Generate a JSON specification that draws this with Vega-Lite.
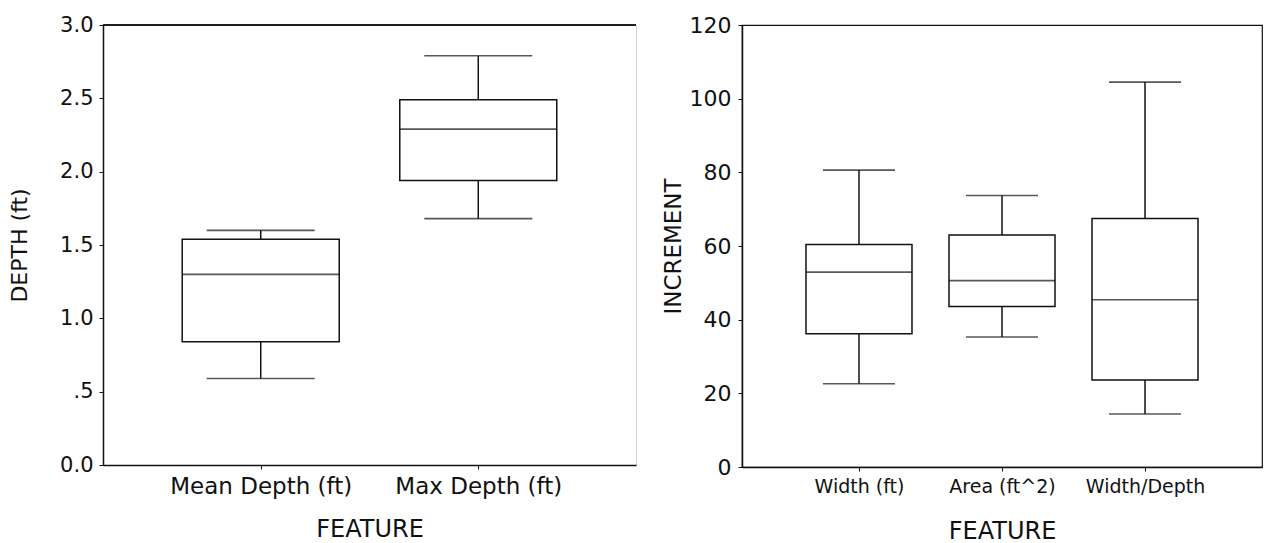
{
  "$schema": "https://vega.github.io/schema/vega-lite/v6.json",
  "background": "white",
  "padding": {"left": 8, "top": 13, "right": 0, "bottom": 0},
  "autosize": {"type": "pad"},
  "spacing": 23,
  "config": {
    "view": {"stroke": null},
    "axis": {
      "labelFont": "DejaVu Sans",
      "titleFont": "DejaVu Sans",
      "titleFontWeight": "normal",
      "labelColor": "#111",
      "titleColor": "#111",
      "domainColor": "#111",
      "tickColor": "#111",
      "domainWidth": 1.5,
      "tickWidth": 1,
      "tickSize": 4,
      "labelPadding": 6,
      "grid": false,
      "labelLimit": 400
    }
  },
  "hconcat": [
    {
      "width": 533,
      "height": 440,
      "view": {"stroke": "#d0d0d0"},
      "data": {
        "values": [
          {"feature": "Mean Depth (ft)", "min": 0.59, "q1": 0.84, "median": 1.30, "q3": 1.54, "max": 1.60},
          {"feature": "Max Depth (ft)", "min": 1.68, "q1": 1.94, "median": 2.29, "q3": 2.49, "max": 2.79}
        ]
      },
      "layer": [
        {
          "mark": {"type": "rule", "color": "#111", "strokeWidth": 1.5},
          "encoding": {
            "x": {"field": "feature", "type": "nominal", "sort": null, "scale": {"type": "point", "padding": 0.725},
              "axis": {"title": "FEATURE", "labelAngle": 0, "labelFontSize": 23, "titleFontSize": 24, "titlePadding": 19}},
            "y": {"field": "min", "type": "quantitative", "scale": {"domain": [0, 3], "nice": false},
              "axis": {"title": "DEPTH (ft)", "values": [0, 0.5, 1, 1.5, 2, 2.5, 3],
                "labelExpr": "datum.value == 0.5 ? '.5' : format(datum.value, '.1f')",
                "labelFontSize": 21, "titleFontSize": 22, "titlePadding": 28}},
            "y2": {"field": "max"}
          }
        },
        {
          "mark": {"type": "bar", "size": 157, "fill": "white", "stroke": "#111", "strokeWidth": 1.5},
          "encoding": {
            "x": {"field": "feature", "type": "nominal", "sort": null},
            "y": {"field": "q1", "type": "quantitative"},
            "y2": {"field": "q3"}
          }
        },
        {
          "mark": {"type": "tick", "size": 157, "thickness": 1.6, "color": "#111"},
          "encoding": {
            "x": {"field": "feature", "type": "nominal", "sort": null},
            "y": {"field": "median", "type": "quantitative"}
          }
        },
        {
          "mark": {"type": "tick", "size": 108, "thickness": 1.6, "color": "#111"},
          "encoding": {
            "x": {"field": "feature", "type": "nominal", "sort": null},
            "y": {"field": "min", "type": "quantitative"}
          }
        },
        {
          "mark": {"type": "tick", "size": 108, "thickness": 1.6, "color": "#111"},
          "encoding": {
            "x": {"field": "feature", "type": "nominal", "sort": null},
            "y": {"field": "max", "type": "quantitative"}
          }
        },
        {
          "mark": {"type": "rule", "color": "#111", "strokeWidth": 1.5},
          "encoding": {"y": {"datum": 3}}
        }
      ]
    },
    {
      "width": 520,
      "height": 442,
      "view": {"stroke": "#111", "strokeWidth": 1.2},
      "data": {
        "values": [
          {"feature": "Width (ft)", "min": 22.6, "q1": 36.2, "median": 52.9, "q3": 60.4, "max": 80.6},
          {"feature": "Area (ft^2)", "min": 35.3, "q1": 43.6, "median": 50.6, "q3": 63.0, "max": 73.7},
          {"feature": "Width/Depth", "min": 14.4, "q1": 23.6, "median": 45.4, "q3": 67.5, "max": 104.5}
        ]
      },
      "layer": [
        {
          "mark": {"type": "rule", "color": "#111", "strokeWidth": 1.5},
          "encoding": {
            "x": {"field": "feature", "type": "nominal", "sort": null, "scale": {"type": "point", "padding": 0.818},
              "axis": {"title": "FEATURE", "labelAngle": 0, "labelFontSize": 19, "titleFontSize": 24, "titlePadding": 23}},
            "y": {"field": "min", "type": "quantitative", "scale": {"domain": [0, 120], "nice": false},
              "axis": {"title": "INCREMENT", "values": [0, 20, 40, 60, 80, 100, 120],
                "labelFontSize": 22, "titleFontSize": 23, "titlePadding": 4, "labelPadding": 7}},
            "y2": {"field": "max"}
          }
        },
        {
          "mark": {"type": "bar", "size": 106, "fill": "white", "stroke": "#111", "strokeWidth": 1.5},
          "encoding": {
            "x": {"field": "feature", "type": "nominal", "sort": null},
            "y": {"field": "q1", "type": "quantitative"},
            "y2": {"field": "q3"}
          }
        },
        {
          "mark": {"type": "tick", "size": 106, "thickness": 1.6, "color": "#111"},
          "encoding": {
            "x": {"field": "feature", "type": "nominal", "sort": null},
            "y": {"field": "median", "type": "quantitative"}
          }
        },
        {
          "mark": {"type": "tick", "size": 72, "thickness": 1.6, "color": "#111"},
          "encoding": {
            "x": {"field": "feature", "type": "nominal", "sort": null},
            "y": {"field": "min", "type": "quantitative"}
          }
        },
        {
          "mark": {"type": "tick", "size": 72, "thickness": 1.6, "color": "#111"},
          "encoding": {
            "x": {"field": "feature", "type": "nominal", "sort": null},
            "y": {"field": "max", "type": "quantitative"}
          }
        }
      ]
    }
  ]
}
